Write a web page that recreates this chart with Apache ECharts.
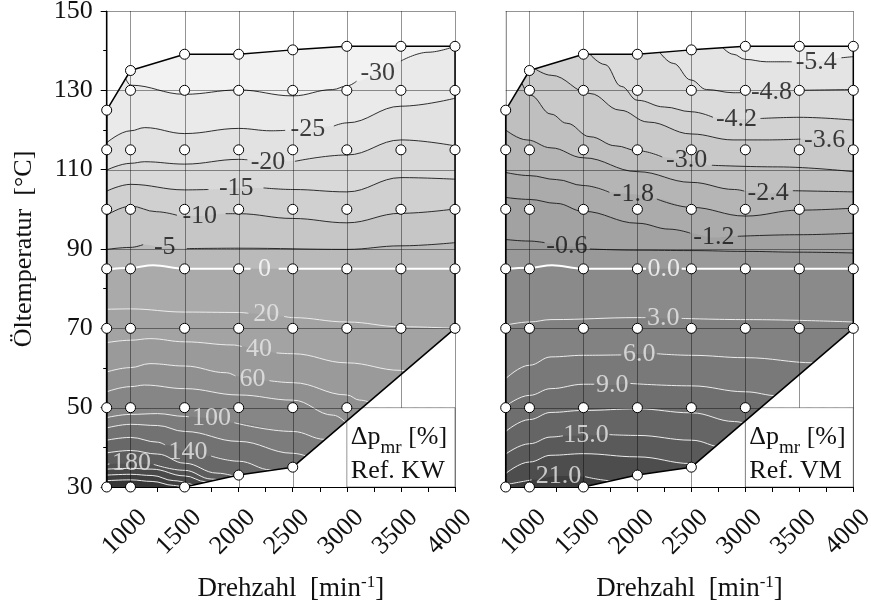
<!DOCTYPE html>
<html>
<head>
<meta charset="utf-8">
<script src="https://cdn.jsdelivr.net/npm/echarts@6/dist/echarts.min.js"></script>
<style>
html, body { margin: 0; padding: 0; background: #fff; }
#chart { width: 871px; height: 603px; }
</style>
</head>
<body>
<div id="chart"></div>
<script>
// ---- axis extents and ticks ----
const RPM_MIN = 780, RPM_MAX = 4000, TEMP_MIN = 30, TEMP_MAX = 150;
const rpmLabels = [1000, 1500, 2000, 2500, 3000, 3500, 4000];
const rpmTicks = [1000, 1250, 1500, 1750, 2000, 2250, 2500, 2750, 3000, 3250, 3500, 3750, 4000];
const tempLabels = [30, 50, 70, 90, 110, 130, 150];
const tempMinorTicks = [40, 60, 80, 100, 120, 140];

// ---- measured operating points (speed columns, oil temperatures) ----
const measRpm = [780, 1000, 1500, 2000, 2500, 3000, 3500, 4000];
const measTemps = [
  [125, 115, 100, 85, 70, 50, 30],
  [135, 130, 115, 100, 85, 70, 50, 30],
  [139.1, 130, 115, 100, 85, 70, 50, 30],
  [139.1, 130, 115, 100, 85, 70, 50, 33],
  [140.2, 130, 115, 100, 85, 70, 50, 35],
  [141.1, 130, 115, 100, 85, 70, 50],
  [141.1, 130, 115, 100, 85, 70],
  [141.1, 130, 115, 100, 85, 70]
];
// envelope of the measured map
const hullTop = [[780, 125], [1000, 135], [1500, 139.1], [2000, 139.1], [2500, 140.2], [3000, 141.1], [3500, 141.1], [4000, 141.1]];
const hullBottom = [[1500, 30], [2000, 33], [2500, 35], [4000, 70]];
// grid cell that carries the map caption
const captionCell = { rpm: [3000, 4000], temp: [30, 50] };

// ---- Ref. KW: friction mean pressure change [%] ----
const kwLevels = [-30, -25, -20, -15, -10, -5, 0, 20, 40, 60, 80, 100, 120, 140, 160, 180, 200, 220, 240];
// each isoline: [part before the label, part after the label]
const kwSegments = [
  [[[955,133.0],[1000,131.3],[1500,129.0],[2000,130.1],[2500,128.6],[2870,130.2],[3000,131.1],[3090,132.3]], [[3500,137.4],[3750,139.6],[4000,141.1]]],
  [[[780,116.8],[1000,119.8],[1132,120.6],[1500,119.1],[2000,120.4],[2300,119.8],[2430,119.9]], [[2880,121.0],[3000,121.8],[3500,126.0],[4000,128.0]]],
  [[[780,109.9],[1000,111.6],[1132,112.0],[1500,111.4],[2000,112.6],[2080,112.5]], [[2520,112.1],[3000,113.7],[3500,117.5],[4000,116.0]]],
  [[[780,104.6],[1000,106.3],[1500,104.9],[1720,105.0]], [[2230,105.4],[2500,105.0],[3000,104.4],[3500,108.0],[4000,107.6]]],
  [[[780,98.5],[1000,100.8],[1240,99.4],[1430,98.5]], [[1880,98.9],[2000,98.9],[2500,97.7],[3000,96.6],[3500,99.0],[4000,100.1]]],
  [[[780,89.9],[1000,90.4],[1117,91.1]], [[1520,90.1],[2000,90.2],[3000,89.9],[3500,90.8],[4000,91.6]]],
  [[[780,84.8],[1000,85.3],[1209,85.9],[1500,85.0],[2000,85.0],[2110,85.0]], [[2370,85.0],[2500,85.0],[3000,85.0],[3500,85.0],[4000,85.0]]],
  [[[780,74.8],[1000,74.9],[1500,74.1],[2000,74.0],[2090,73.8]], [[2420,73.0],[2500,72.7],[3000,71.6],[3500,70.4],[4000,70.0]]],
  [[[780,66.4],[1000,67.0],[1180,67.4],[1500,66.6],[1950,65.8],[2030,65.4]], [[2350,63.8],[2500,63.6],[3000,61.3],[3500,59.4],[3700,58.5]]],
  [[[780,59.0],[1000,60.1],[1180,61.1],[1500,60.5],[1887,58.8],[1970,58.0]], [[2285,56.8],[2500,56.3],[3000,53.2],[3119,51.9],[3350,49.5]]],
  [[[780,54.0],[1000,55.3],[1130,55.7],[1500,54.8],[2000,53.2],[2500,51.9],[2876,48.1],[3000,46.0]]],
  [[[780,47.5],[1000,48.3],[1250,48.5],[1500,47.8],[1540,47.7]], [[1960,46.2],[2500,44.0],[2800,42.0],[2900,41.0]]],
  [[[780,44.9],[1000,45.8],[1250,45.5],[1500,44.0],[2000,41.5],[2500,38.5],[2700,37.0]]],
  [[[780,41.8],[1000,42.5],[1250,41.3],[1320,40.6]], [[1745,37.8],[2000,36.5],[2300,34.3],[2400,33.5]]],
  [[[780,38.6],[1000,39.2],[1250,38.3],[1500,36.0],[1800,33.5],[2000,32.4]]],
  [[[780,35.7],[805,35.8]], [[1215,35.7],[1500,34.2],[1750,32.0],[1900,31.2]]],
  [[[780,34.5],[1000,34.7],[1200,34.5],[1500,32.8],[1700,31.3],[1800,30.6]]],
  [[[780,33.0],[1000,33.2],[1200,32.9],[1400,31.6],[1600,30.3]]],
  [[[780,31.6],[1000,31.8],[1200,31.4],[1400,30.4],[1480,30.0]]]
];
const kwLabelAt = [
  [3286,134.4], [2640,120.2], [2271,112.0], [1978,105.3], [1640,98.3], [1317,90.5], [2240,85.0],
  [2255,73.5], [2189,64.7], [2127,57.1], null, [1749,47.3], null, [1532,38.9], null, [1009,35.9], null, null, null
];

// ---- Ref. VM ----
const vmLevels = [-5.4, -4.8, -4.2, -3.6, -3.0, -2.4, -1.8, -1.2, -0.6, 0, 3, 6, 9, 12, 15, 18, 21];
const vmSegments = [
  [[[2789,140.8],[2887,139.1],[3000,137.8],[3195,137.2],[3430,137.2]], [[3890,138.2],[4000,138.5]]],
  [[[2209,139.5],[2332,136.8],[2496,132.6],[2641,130.2],[2887,129.4],[3020,129.4]], [[3470,130.0],[4000,130.2]]],
  [[[1560,139.1],[1700,136.5],[1850,131.0],[2000,127.5],[2250,125.8],[2500,124.6],[2700,123.2]], [[3140,122.9],[3500,123.2],[4000,122.5]]],
  [[[1053,135.4],[1200,133.8],[1561,129.2],[1839,125.0],[2100,122.0],[2500,119.0],[2887,117.5],[3200,117.5],[3510,117.7]], [[3960,116.0],[4000,115.8]]],
  [[[930,131.8],[1006,128.8],[1200,124.0],[1346,121.7],[1561,118.3],[1800,116.0],[2000,114.8],[2230,113.2]], [[2690,111.1],[3300,110.7],[4000,109.5]]],
  [[[780,120.0],[976,117.5],[1200,115.5],[1500,113.0],[2000,109.5],[2500,106.8],[2900,105.0],[2990,104.6]], [[3440,104.7],[4000,104.4]]],
  [[[780,109.3],[1000,108.5],[1250,107.5],[1500,106.0],[1740,104.3]], [[2180,102.6],[2500,100.5],[3000,98.3],[3500,99.8],[4000,100.3]]],
  [[[780,103.0],[1000,102.5],[1250,101.5],[1500,99.5],[2000,96.5],[2300,95.0],[2490,94.0]], [[2930,93.2],[3500,93.6],[4000,94.0]]],
  [[[780,92.4],[1000,92.0],[1140,91.6]], [[1560,90.0],[2000,89.7],[2500,89.6],[3000,89.4],[3500,89.2],[4000,89.0]]],
  [[[780,85.0],[1000,85.3],[1209,85.9],[1500,85.0],[2000,85.0],[2080,85.0]], [[2410,85.0],[2500,85.0],[3000,85.0],[3500,85.0],[4000,85.0]]],
  [[[780,70.8],[1000,71.6],[1200,72.2],[2000,72.7],[2075,72.7]], [[2410,72.5],[3000,72.2],[4000,71.6]]],
  [[[780,57.3],[1000,60.7],[1200,62.8],[1500,63.2],[1850,63.3]], [[2180,63.6],[2500,63.2],[3000,62.6],[3650,61.3],[3750,61.0]]],
  [[[780,50.4],[1000,53.1],[1200,54.8],[1500,55.9],[1600,55.9]], [[1935,56.1],[2500,55.5],[3000,54.0],[3300,53.0],[3400,52.2]]],
  [[[780,44.0],[1000,47.0],[1200,48.8],[1500,49.3],[2000,49.7],[2500,48.7],[2900,46.5],[3100,45.0]]],
  [[[780,38.3],[1000,40.9],[1200,42.6],[1310,42.9]], [[1740,43.2],[2000,43.0],[2500,41.8],[2800,40.0],[2850,39.5]]],
  [[[780,33.4],[1000,36.3],[1200,38.0],[1500,38.4],[2000,37.6],[2500,35.9],[2650,34.5]]],
  [[[780,30.6],[1020,31.8]], [[1515,32.6],[1800,31.5],[1900,31.0]]]
];
const vmLabelAt = [
  [3657,137.2], [3242,129.5], [2918,122.7], [3735,117.5], [2456,112.4], [3211,104.0], [1962,103.8], [2708,92.9], [1346,90.6],
  [2244,85.0], [2240,72.5], [2016,63.5], [1768,55.7], null, [1525,43.0], null, [1268,32.8]
];

// ---- grey shading, lightest band first ----
const kwBands = ['#f2f2f2','#eaeaea','#e2e2e2','#d9d9d9','#d0d0d0','#c6c6c6','#bababa','#aaaaaa','#a3a3a3','#9a9a9a',
                 '#909090','#868686','#7c7c7c','#727272','#686868','#5d5d5d','#535353','#494949','#3f3f3f','#363636'];
const vmBands = ['#eeeeee','#e4e4e4','#dbdbdb','#d2d2d2','#c9c9c9','#bfbfbf','#b5b5b5','#ababab','#a2a2a2','#999999',
                 '#8a8a8a','#828282','#797979','#6f6f6f','#656565','#5a5a5a','#4d4d4d','#3e3e3e'];

const FONT = 'Liberation Serif';
const GRID_INK = 'rgba(0,0,0,0.42)';
const TEXT_INK = '#111';

const measureCtx = document.createElement('canvas').getContext('2d');
function textWidth(str, size) {
  measureCtx.font = size + 'px "' + FONT + '"';
  return measureCtx.measureText(str).width;
}

function lowerEdgeT(rpm) {
  for (let i = 0; i < hullBottom.length - 1; i++) {
    const [r0, t0] = hullBottom[i], [r1, t1] = hullBottom[i + 1];
    if (rpm >= r0 && rpm <= r1) return t0 + (t1 - t0) * (rpm - r0) / (r1 - r0);
  }
  return rpm < hullBottom[0][0] ? TEMP_MIN : hullBottom[hullBottom.length - 1][1];
}

function lineColor(level) { return level < 0 ? '#1a1a1a' : (level === 0 ? '#ffffff' : '#ececec'); }
function lineWidth(level) { return level < 0 ? 0.9 : (level === 0 ? 2 : 1); }
function labelColor(level) { return level < 0 ? TEXT_INK : (level === 0 ? '#ffffff' : '#e8e8e8'); }

function panelSeries(p, levels, segments, labelAt, bands, digits, caption) {
  const ax = { xAxisIndex: p, yAxisIndex: p, silent: true };
  const out = [];
  const SMOOTH = 0.4;

  // lightest band under the whole envelope
  out.push(Object.assign({}, ax, {
    type: 'line', data: hullTop, showSymbol: false, lineStyle: { width: 0 },
    areaStyle: { color: bands[0], origin: 'start', opacity: 1 }, z: 1
  }));

  // bands: each isoline fills everything below it with the next darker grey
  levels.forEach((lv, k) => {
    const segs = segments[k];
    let path = labelAt[k] ? segs[0].concat([labelAt[k]], segs[1]) : segs[0].slice();
    const first = path[0];
    if (first[0] > RPM_MIN && first[1] > TEMP_MIN + 1) {
      const lead = [[RPM_MIN, TEMP_MAX]];
      if (first[0] - 120 > RPM_MIN) lead.push([first[0] - 120, TEMP_MAX]);
      path = lead.concat(path);
    }
    out.push(Object.assign({}, ax, {
      type: 'line', data: path, showSymbol: false, smooth: SMOOTH, smoothMonotone: 'x',
      lineStyle: { width: 0 }, areaStyle: { color: bands[k + 1], origin: 'start', opacity: 1 }, z: 1
    }));
  });

  // isolines
  levels.forEach((lv, k) => {
    segments[k].forEach(seg => {
      out.push(Object.assign({}, ax, {
        type: 'line', data: seg, showSymbol: false, smooth: SMOOTH, smoothMonotone: 'x',
        lineStyle: { color: lineColor(lv), width: lineWidth(lv) }, z: 2
      }));
    });
  });

  // blank outside the measured envelope
  out.push(Object.assign({}, ax, {
    type: 'line', data: hullTop, showSymbol: false, lineStyle: { width: 0 },
    areaStyle: { color: '#ffffff', origin: 'end', opacity: 1 }, z: 3
  }));
  out.push(Object.assign({}, ax, {
    type: 'line', data: hullBottom, showSymbol: false, lineStyle: { width: 0 },
    areaStyle: { color: '#ffffff', origin: 'start', opacity: 1 }, z: 3
  }));

  // grid lines and frame
  const gridSegs = [];
  [RPM_MIN].concat(rpmLabels).forEach(r => gridSegs.push([r, TEMP_MIN, r, TEMP_MAX]));
  tempLabels.slice(1).forEach(t => gridSegs.push([RPM_MIN, t, RPM_MAX, t]));
  out.push(Object.assign({}, ax, {
    type: 'custom', data: gridSegs, z: 4, clip: false,
    renderItem: (params, api) => {
      const a = api.coord([api.value(0), api.value(1)]);
      const b = api.coord([api.value(2), api.value(3)]);
      const vertical = api.value(0) === api.value(2);
      const x1 = vertical ? Math.round(a[0]) + 0.5 : a[0];
      const y1 = vertical ? a[1] : Math.round(a[1]) + 0.5;
      const x2 = vertical ? Math.round(b[0]) + 0.5 : b[0];
      const y2 = vertical ? b[1] : Math.round(b[1]) + 0.5;
      return { type: 'line', shape: { x1: x1, y1: y1, x2: x2, y2: y2 }, style: { stroke: GRID_INK, lineWidth: 1 } };
    }
  }));

  // caption box in the free corner
  out.push(Object.assign({}, ax, {
    type: 'custom', data: [[captionCell.rpm[0], captionCell.temp[0]]], z: 5, clip: false,
    renderItem: (params, api) => {
      const [r0, r1] = captionCell.rpm, [t0, t1] = captionCell.temp;
      const outline = [[r0, t0], [r1, t0]];
      for (let r = r1; r >= r0; r -= 10) outline.push([r, Math.min(t1, lowerEdgeT(r))]);
      const pts = outline.map(q => api.coord(q));
      const tl = api.coord([r0, t1]), bl = api.coord([r0, t0]);
      const x0 = tl[0] + 4;
      const base1 = tl[1] + 37, base2 = bl[1] - 8;
      const big = 26, small = 19;
      const w1 = textWidth('\u0394p', big), w2 = textWidth('mr', small);
      const t = (s, x, base, size) => ({
        type: 'text', x: x, y: base - 0.3 * size,
        style: { text: s, font: size + 'px "' + FONT + '"', fill: TEXT_INK, align: 'left', verticalAlign: 'middle' }
      });
      return { type: 'group', children: [
        { type: 'polygon', shape: { points: pts }, style: { fill: '#ffffff', stroke: GRID_INK, lineWidth: 1 } },
        t('\u0394p', x0, base1, big),
        t('mr', x0 + w1, base1 + 9, small),
        t(' [%]', x0 + w1 + w2, base1, big),
        t(caption, x0, base2, big)
      ] };
    }
  }));

  // envelope outline
  const outline = [[RPM_MIN, TEMP_MIN]].concat(hullTop, hullBottom.slice().reverse());
  out.push(Object.assign({}, ax, {
    type: 'line', data: outline, showSymbol: false, clip: false,
    lineStyle: { color: '#000', width: 1.5 }, z: 7
  }));

  // isoline values
  const labels = [];
  levels.forEach((lv, k) => {
    if (labelAt[k]) labels.push({ value: labelAt[k], name: lv.toFixed(digits), label: { color: labelColor(lv) } });
  });
  out.push(Object.assign({}, ax, {
    type: 'scatter', data: labels, symbolSize: 1, itemStyle: { color: 'rgba(0,0,0,0)' }, z: 8, clip: false,
    label: { show: true, position: 'inside', formatter: '{b}', fontSize: 26, fontFamily: FONT }
  }));

  // measured points
  const pts = [];
  measRpm.forEach((r, i) => measTemps[i].forEach(tv => pts.push([r, tv])));
  out.push(Object.assign({}, ax, {
    type: 'scatter', data: pts, symbol: 'circle', symbolSize: 10, clip: false,
    itemStyle: { color: '#ffffff', borderColor: '#000', borderWidth: 1, opacity: 1 }, z: 9
  }));
  return out;
}

const xAxes = [0, 1].map(i => ({
  type: 'value', gridIndex: i, min: RPM_MIN, max: RPM_MAX, z: 6, position: 'bottom',
  axisLine: { show: true, onZero: false, lineStyle: { color: '#000', width: 1.2 } },
  axisTick: { show: true, customValues: rpmTicks, length: 5, lineStyle: { color: '#000', width: 1 } },
  axisLabel: { show: true, customValues: rpmLabels, rotate: 45, margin: 14, align: 'right', verticalAlign: 'top',
               fontSize: 26, lineHeight: 36, color: TEXT_INK, fontFamily: FONT, formatter: v => String(v) },
  splitLine: { show: false },
  name: 'Drehzahl  [min{sup|-1}]', nameLocation: 'middle', nameGap: 87,
  nameTextStyle: { fontSize: 27, lineHeight: 30, color: TEXT_INK, fontFamily: FONT, padding: [0, 0, 0, 20],
                   rich: { sup: { fontSize: 17, lineHeight: 17, verticalAlign: 'top', color: TEXT_INK, fontFamily: FONT } } }
}));

const yAxes = [
  { type: 'value', gridIndex: 0, min: TEMP_MIN, max: TEMP_MAX, z: 6, position: 'left',
    axisLine: { show: true, lineStyle: { color: '#000', width: 1.2 } },
    axisTick: { show: true, customValues: tempLabels, length: 6, lineStyle: { color: '#000', width: 1 } },
    axisLabel: { show: true, customValues: tempLabels, margin: 14, fontSize: 26, color: TEXT_INK, fontFamily: FONT },
    splitLine: { show: false },
    name: '\u00d6ltemperatur  [\u00b0C]', nameLocation: 'middle', nameGap: 70,
    nameTextStyle: { fontSize: 26, color: TEXT_INK, fontFamily: FONT } },
  { type: 'value', gridIndex: 1, min: TEMP_MIN, max: TEMP_MAX, z: 6, position: 'left',
    axisLine: { show: false }, axisTick: { show: false }, axisLabel: { show: false }, splitLine: { show: false } },
  { type: 'value', gridIndex: 0, min: TEMP_MIN, max: TEMP_MAX, z: 6, position: 'left', offset: 0,
    axisLine: { show: false },
    axisTick: { show: true, customValues: tempMinorTicks, length: 3.5, lineStyle: { color: '#000', width: 1 } },
    axisLabel: { show: false }, splitLine: { show: false } }
];

const chart = echarts.init(document.getElementById('chart'), null, { renderer: 'canvas' });
chart.setOption({
  animation: false,
  backgroundColor: '#ffffff',
  textStyle: { fontFamily: FONT },
  grid: [
    { left: 106.7, top: 11, width: 348.3, height: 476, containLabel: false, outerBoundsMode: 'none' },
    { left: 505.7, top: 11, width: 347.6, height: 476, containLabel: false, outerBoundsMode: 'none' }
  ],
  xAxis: xAxes,
  yAxis: yAxes,
  series: panelSeries(0, kwLevels, kwSegments, kwLabelAt, kwBands, 0, 'Ref. KW')
    .concat(panelSeries(1, vmLevels, vmSegments, vmLabelAt, vmBands, 1, 'Ref. VM'))
});
</script>
</body>
</html>
